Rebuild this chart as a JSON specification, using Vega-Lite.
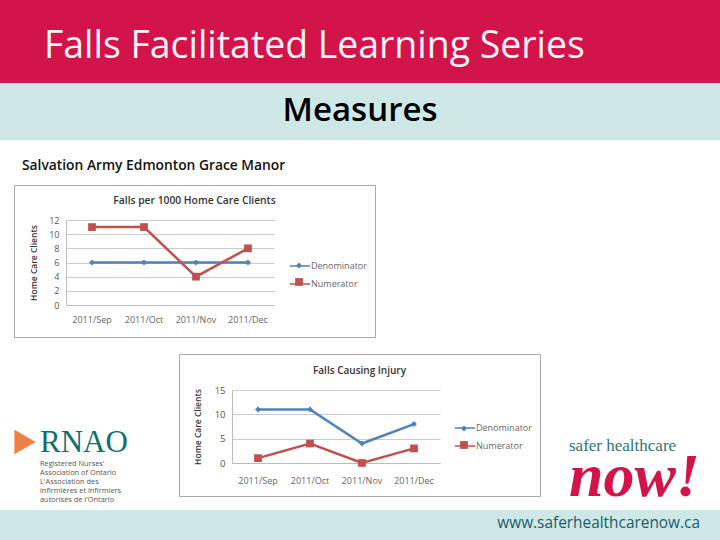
{
  "$schema": "https://vega.github.io/schema/vega-lite/v6.json",
  "padding": 0,
  "background": "white",
  "spacing": 0,
  "resolve": {"scale": {"color": "independent", "stroke": "independent", "shape": "independent", "size": "independent"}, "legend": {"color": "independent", "stroke": "independent"}},
  "config": {
    "view": {"stroke": null},
    "axis": {"labelFont": "Open Sans", "titleFont": "Open Sans"},
    "legend": {"labelFont": "Open Sans"}
  },
  "datasets": {
    "blank": [{"note": "slide"}],
    "fallsPer1000": [
      {"month": "2011/Sep", "series": "Denominator", "value": 6},
      {"month": "2011/Oct", "series": "Denominator", "value": 6},
      {"month": "2011/Nov", "series": "Denominator", "value": 6},
      {"month": "2011/Dec", "series": "Denominator", "value": 6},
      {"month": "2011/Sep", "series": "Numerator", "value": 11},
      {"month": "2011/Oct", "series": "Numerator", "value": 11},
      {"month": "2011/Nov", "series": "Numerator", "value": 4},
      {"month": "2011/Dec", "series": "Numerator", "value": 8}
    ],
    "fallsInjury": [
      {"month": "2011/Sep", "series": "Denominator", "value": 11},
      {"month": "2011/Oct", "series": "Denominator", "value": 11},
      {"month": "2011/Nov", "series": "Denominator", "value": 4},
      {"month": "2011/Dec", "series": "Denominator", "value": 8},
      {"month": "2011/Sep", "series": "Numerator", "value": 1},
      {"month": "2011/Oct", "series": "Numerator", "value": 4},
      {"month": "2011/Nov", "series": "Numerator", "value": 0},
      {"month": "2011/Dec", "series": "Numerator", "value": 3}
    ]
  },
  "vconcat": [
    {
      "width": 720, "height": 83,
      "view": {"fill": "#d2144a", "stroke": null},
      "title": {"text": "Falls Facilitated Learning Series", "anchor": "start", "frame": "group", "dx": 44, "dy": 69, "font": "Open Sans", "fontSize": 37.4, "fontWeight": "normal", "color": "#fdf3f7"},
      "data": {"name": "blank"},
      "mark": {"type": "text", "text": ""}
    },
    {
      "width": 720, "height": 57,
      "view": {"fill": "#cde8e6", "stroke": null},
      "title": {"text": "Measures", "anchor": "middle", "frame": "group", "dy": 49, "font": "Open Sans", "fontSize": 33, "fontWeight": 600, "color": "#000000"},
      "data": {"name": "blank"},
      "mark": {"type": "text", "text": ""}
    },
    {
      "width": 720, "height": 44,
      "title": {"text": "Salvation Army Edmonton Grace Manor", "anchor": "start", "frame": "group", "dx": 22, "dy": 37, "font": "Open Sans", "fontSize": 13.8, "fontWeight": 600, "color": "#111111"},
      "data": {"name": "blank"},
      "mark": {"type": "text", "text": ""}
    },
    {
      "spacing": 15,
      "resolve": {"scale": {"color": "independent", "stroke": "independent", "shape": "independent", "size": "independent"}, "legend": {"color": "independent", "stroke": "independent"}},
      "vconcat": [
        {
          "spacing": 0,
          "bounds": "flush",
          "resolve": {"scale": {"color": "independent", "stroke": "independent", "shape": "independent", "size": "independent"}, "legend": {"color": "independent", "stroke": "independent"}},
          "hconcat": [
            {"width": 14, "height": 152, "data": {"name": "blank"}, "mark": {"type": "text", "text": ""}},
            {
              "width": 361, "height": 152,
              "view": {"fill": "white", "stroke": "#a8a8a8"},
              "title": {"text": "Falls per 1000 Home Care Clients", "anchor": "middle", "frame": "group", "dy": 25, "font": "Open Sans", "fontSize": 10.3, "fontWeight": 600, "color": "#333333"},
              "data": {"name": "fallsPer1000"},
              "encoding": {
                "x": {"field": "month", "type": "nominal", "sort": ["2011/Sep", "2011/Oct", "2011/Nov", "2011/Dec"],
                  "scale": {"type": "band", "padding": 0, "range": [52, 260]},
                  "axis": {"title": null, "labelAngle": 0, "ticks": false, "offset": -32, "labelFontSize": 9, "labelColor": "#666666", "labelPadding": 10, "domainColor": "#bbbbbb", "grid": false}},
                "y": {"field": "value", "type": "quantitative",
                  "scale": {"domain": [0, 12], "nice": false, "range": [120, 35]},
                  "axis": {"title": "Home Care Clients", "values": [0, 2, 4, 6, 8, 10, 12], "offset": -52, "ticks": false, "labelFontSize": 9, "labelColor": "#555555", "labelPadding": 7, "domainColor": "#bbbbbb", "grid": true, "gridColor": "#cccccc", "titleFontSize": 8.5, "titleFontWeight": 600, "titleColor": "#333333", "titlePadding": 10}}
              },
              "layer": [
                {
                  "mark": {"type": "line", "strokeWidth": 2.5},
                  "encoding": {
                    "stroke": {"field": "series", "type": "nominal",
                      "scale": {"range": ["#4f81bd", "#c0504d"]},
                      "legend": {"orient": "none", "legendX": 275, "legendY": 70, "title": null, "symbolSize": 400, "labelFontSize": 9, "labelColor": "#666666", "labelOffset": 0, "rowPadding": 2}
                    }
                  }
                },
                {
                  "mark": {"type": "point", "filled": true, "opacity": 1},
                  "encoding": {
                    "color": {"field": "series", "type": "nominal",
                      "scale": {"domain": ["Denominator", "Numerator"], "range": ["#4f81bd", "#c0504d"]},
                      "legend": {"orient": "none", "legendX": 280, "legendY": 76, "title": null, "symbolSize": 400, "labelExpr": "''", "labelFontSize": 9, "rowPadding": 6}
                    },
                    "shape": {"field": "series", "type": "nominal", "scale": {"domain": ["Denominator", "Numerator"], "range": ["diamond", "square"]}, "legend": null},
                    "size": {"field": "series", "type": "nominal", "scale": {"domain": ["Denominator", "Numerator"], "range": [35, 60]}, "legend": null}
                  }
                }
              ]
            }
          ]
        },
        {
          "spacing": 0,
          "bounds": "flush",
          "resolve": {"scale": {"color": "independent", "stroke": "independent", "shape": "independent", "size": "independent"}, "legend": {"color": "independent", "stroke": "independent"}},
          "hconcat": [
            {
              "width": 179, "height": 156,
              "title": {"text": "RNAO", "subtitle": ["Registered Nurses'", "Association of Ontario", "L'Association des", "infirmières et infirmiers", "autorisés de l'Ontario"], "anchor": "start", "frame": "group", "dx": 40, "dy": 154, "font": "Liberation Serif", "fontSize": 31, "fontWeight": "normal", "color": "#0f6f6e", "subtitleFont": "Open Sans", "subtitleFontSize": 7.4, "subtitleColor": "#555555", "subtitleLineHeight": 9, "subtitlePadding": 1},
              "data": {"name": "blank"},
              "mark": {"type": "point", "shape": "triangle-right", "filled": true, "opacity": 1, "color": "#ee7f45", "size": 600},
              "encoding": {"x": {"value": 25}, "y": {"value": 88}}
            },
            {
              "width": 361, "height": 142,
              "view": {"fill": "white", "stroke": "#a8a8a8"},
              "title": {"text": "Falls Causing Injury", "anchor": "middle", "frame": "group", "dy": 26, "font": "Open Sans", "fontSize": 10, "fontWeight": 600, "color": "#333333"},
              "data": {"name": "fallsInjury"},
              "encoding": {
                "x": {"field": "month", "type": "nominal", "sort": ["2011/Sep", "2011/Oct", "2011/Nov", "2011/Dec"],
                  "scale": {"type": "band", "padding": 0, "range": [53, 261]},
                  "axis": {"title": null, "labelAngle": 0, "ticks": false, "offset": -33, "labelFontSize": 9, "labelColor": "#666666", "labelPadding": 13, "domainColor": "#bbbbbb", "grid": false}},
                "y": {"field": "value", "type": "quantitative",
                  "scale": {"domain": [0, 15], "nice": false, "range": [109, 36]},
                  "axis": {"title": "Home Care Clients", "values": [0, 5, 10, 15], "offset": -53, "ticks": false, "labelFontSize": 9.5, "labelColor": "#555555", "labelPadding": 7, "domainColor": "#bbbbbb", "grid": true, "gridColor": "#cccccc", "titleFontSize": 8.5, "titleFontWeight": 600, "titleColor": "#333333", "titlePadding": 12}}
              },
              "layer": [
                {
                  "mark": {"type": "line", "strokeWidth": 2.5},
                  "encoding": {
                    "stroke": {"field": "series", "type": "nominal",
                      "scale": {"range": ["#4f81bd", "#c0504d"]},
                      "legend": {"orient": "none", "legendX": 275, "legendY": 63, "title": null, "symbolSize": 400, "labelFontSize": 9, "labelColor": "#666666", "labelOffset": 0, "rowPadding": 2}
                    }
                  }
                },
                {
                  "mark": {"type": "point", "filled": true, "opacity": 1},
                  "encoding": {
                    "color": {"field": "series", "type": "nominal",
                      "scale": {"domain": ["Denominator", "Numerator"], "range": ["#4f81bd", "#c0504d"]},
                      "legend": {"orient": "none", "legendX": 280, "legendY": 70, "title": null, "symbolSize": 400, "labelExpr": "''", "labelFontSize": 9, "rowPadding": 6}
                    },
                    "shape": {"field": "series", "type": "nominal", "scale": {"domain": ["Denominator", "Numerator"], "range": ["diamond", "square"]}, "legend": null},
                    "size": {"field": "series", "type": "nominal", "scale": {"domain": ["Denominator", "Numerator"], "range": [35, 60]}, "legend": null}
                  }
                }
              ]
            },
            {
              "width": 180, "height": 156,
              "title": {"text": "safer healthcare", "subtitle": "now!", "anchor": "start", "frame": "group", "dx": 29, "dy": 159, "font": "Liberation Serif", "fontSize": 17, "fontWeight": "normal", "color": "#2f7471", "subtitleFont": "Liberation Serif", "subtitleFontSize": 62, "subtitleFontStyle": "italic", "subtitleFontWeight": "bold", "subtitleColor": "#d2144a", "subtitlePadding": -8},
              "data": {"name": "blank"},
              "mark": {"type": "text", "text": ""}
            }
          ]
        }
      ]
    },
    {
      "width": 720, "height": 30,
      "view": {"fill": "#cde8e6", "stroke": null},
      "title": {"text": "www.saferhealthcarenow.ca", "anchor": "end", "frame": "group", "dx": -20, "dy": 25, "font": "Open Sans", "fontSize": 15.4, "fontWeight": "normal", "color": "#1d5c68"},
      "data": {"name": "blank"},
      "mark": {"type": "text", "text": ""}
    }
  ]
}
